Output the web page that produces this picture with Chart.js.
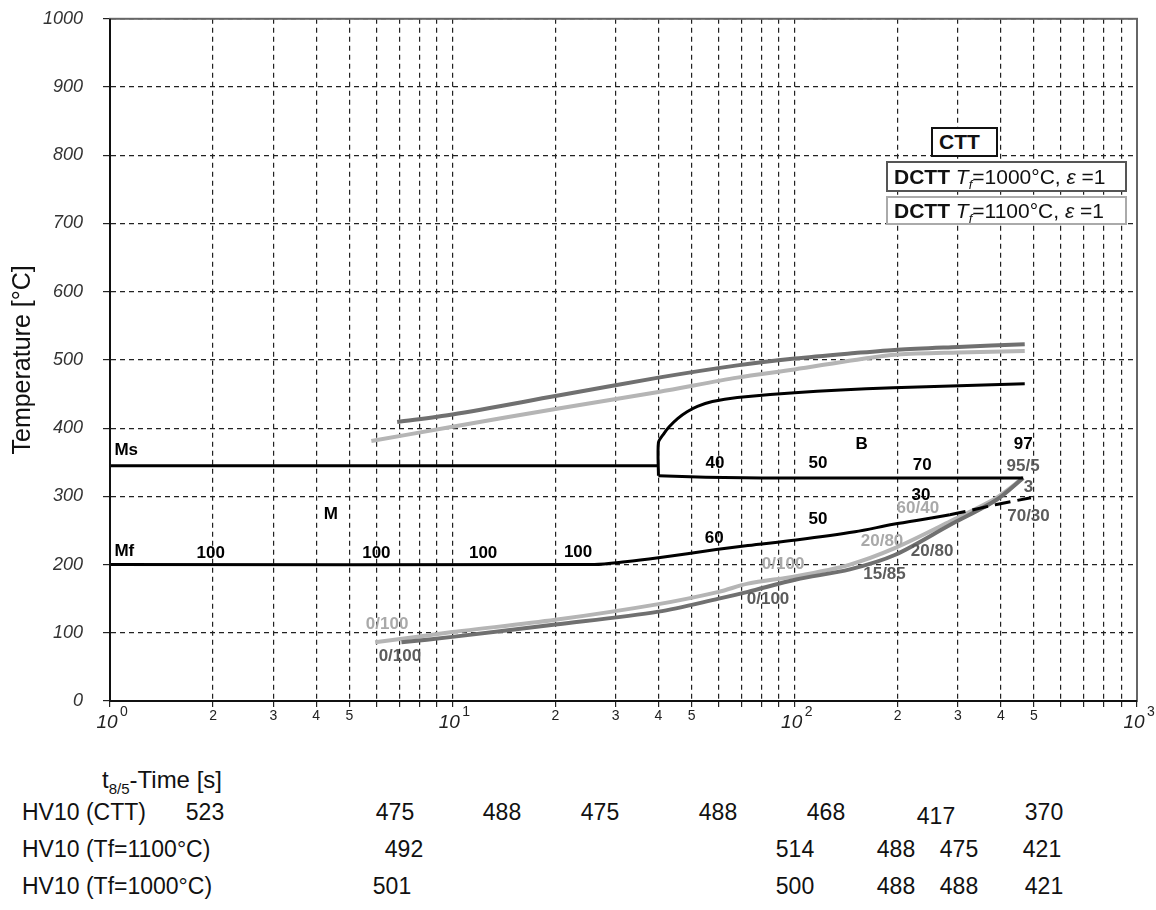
<!DOCTYPE html>
<html lang="en">
<head>
  <meta charset="UTF-8">
  <title>CTT / DCTT diagram</title>
  <script src="https://cdn.jsdelivr.net/npm/chart.js"></script>
  <style>
    body {
      margin: 0;
      background: #fff;
      font-family: "Liberation Sans", Arial, sans-serif;
      color: #111;
    }
    .page {
      position: relative;
      width: 1156px;
      height: 910px;
      overflow: hidden;
    }
    #cctChart {
      position: absolute;
      left: 0;
      top: -12px;
    }
    .key {
      position: absolute;
      box-sizing: border-box;
      background: #fff;
      font-size: 21px;
      white-space: nowrap;
      padding-left: 6px;
    }
    .key b { font-weight: bold; }
    .key i sub { font-size: 13px; }
    .xtitle {
      position: absolute;
      left: 102px;
      top: 765px;
      font-size: 24px;
      line-height: 30px;
      color: #111;
    }
    .xtitle sub { font-size: 15px; }
    .hv {
      position: absolute;
      font-size: 23px;
      line-height: 28px;
      white-space: nowrap;
      color: #111;
    }
  </style>
</head>
<body>
  <div class="page">
    <canvas id="cctChart" width="1156" height="752"></canvas>

    <div class="key" style="left:931px; top:127px; width:67px; height:30px; line-height:26px; border:2px solid #111;"><b>CTT</b></div>
    <div class="key" style="left:886px; top:161px; width:241px; height:31px; line-height:27px; border:2.5px solid #555;"><b>DCTT</b> <i>T<sub>f</sub></i>=1000°C, <i>ε</i> =1</div>
    <div class="key" style="left:886px; top:196px; width:241px; height:29px; line-height:25px; border:2px solid #aaa;"><b>DCTT</b> <i>T<sub>f</sub></i>=1100°C, <i>ε</i> =1</div>

    <div class="xtitle">t<sub>8/5</sub>-Time [s]</div>
    <div id="hvTable"></div>
  </div>

  <script>
    // CTT (black)
    const cttMsTime = [1, 40];
    const cttMsTemp = [345, 345];
    const cttBsTime = [40, 40, 41.5, 43, 45.5, 48.5, 52, 57.5, 68, 100, 194, 470];
    const cttBsTemp = [330, 379, 392, 402, 414, 424, 432, 439, 445, 452, 459, 465];
    const cttBfTime = [40, 55, 80, 465];
    const cttBfTemp = [330, 328, 327, 327];
    const cttMfTime = [1, 26, 32, 40, 59, 73, 101, 150, 194, 284, 389, 490];
    const cttMfTemp = [200, 200, 204, 210, 222, 228, 236, 248, 259, 273, 288, 298];

    // DCTT Tf=1000°C (dark grey)
    const d1000UpTime = [6.9, 10, 20, 40, 68, 100, 150, 200, 300, 470];
    const d1000UpTemp = [409, 420, 447, 474, 492, 502, 510, 515, 519, 523];
    const d1000LoTime = [7.1, 10, 20, 40, 60, 73, 101, 145, 196, 284, 389, 465];
    const d1000LoTemp = [86, 94, 112, 131, 150, 160, 178, 193, 214, 258, 295, 327];

    // DCTT Tf=1100°C (light grey)
    const d1100UpTime = [5.8, 10, 20, 40, 68, 100, 150, 200, 300, 470];
    const d1100UpTemp = [381, 402, 428, 453, 474, 486, 500, 508, 511, 513];
    const d1100LoTime = [5.95, 10, 20, 40, 60, 73, 101, 145, 196, 284, 389, 465];
    const d1100LoTemp = [86, 101, 119, 142, 160, 172, 183, 200, 224, 263, 298, 327];

    // hardness rows under the chart
    const hvLabels = ['HV10 (CTT)', 'HV10 (Tf=1100°C)', 'HV10 (Tf=1000°C)'];
    const hvCTT = [523, 475, 488, 475, 488, 468, 417, 370];
    const hvTf1100 = [492, 514, 488, 475, 421];
    const hvTf1000 = [501, 500, 488, 488, 421];

    const yTicks = [0, 100, 200, 300, 400, 500, 600, 700, 800, 900, 1000];

    // phase labels placed in (time, temperature)
    const curveLabels = [
      { t: 1.03, T: 367, text: 'Ms', tone: 'black', align: 'left' },
      { t: 1.03, T: 220, text: 'Mf', tone: 'black', align: 'left' },
      { t: 4.42, T: 274, text: 'M', tone: 'black' },
      { t: 1.97, T: 217, text: '100', tone: 'black' },
      { t: 6.0, T: 217, text: '100', tone: 'black' },
      { t: 12.3, T: 217, text: '100', tone: 'black' },
      { t: 23.3, T: 218, text: '100', tone: 'black' },
      { t: 58.2, T: 239, text: '60', tone: 'black' },
      { t: 117, T: 267, text: '50', tone: 'black' },
      { t: 234, T: 301, text: '30', tone: 'black' },
      { t: 58.5, T: 349, text: '40', tone: 'black' },
      { t: 117, T: 349, text: '50', tone: 'black' },
      { t: 157, T: 376, text: 'B', tone: 'black' },
      { t: 236, T: 346, text: '70', tone: 'black' },
      { t: 465, T: 376, text: '97', tone: 'black' },
      { t: 465, T: 344, text: '95/5', tone: 'dark' },
      { t: 482, T: 313, text: '3', tone: 'dark' },
      { t: 482, T: 270, text: '70/30', tone: 'dark' },
      { t: 229, T: 282, text: '60/40', tone: 'light' },
      { t: 180, T: 234, text: '20/80', tone: 'light' },
      { t: 252, T: 219, text: '20/80', tone: 'dark' },
      { t: 183, T: 185, text: '15/85', tone: 'dark' },
      { t: 92.5, T: 200, text: '0/100', tone: 'light' },
      { t: 83.6, T: 149, text: '0/100', tone: 'dark' },
      { t: 6.45, T: 112, text: '0/100', tone: 'light' },
      { t: 7.03, T: 65, text: '0/100', tone: 'dark' }
    ];

    const toneColor = { black: '#000', dark: '#5c5c5c', light: '#a9a9a9' };
    const DARK = '#707070';
    const LIGHT = '#b5b5b5';

    const pairs = (ts, Ts) => ts.map((t, i) => ({ x: t, y: Ts[i] }));

    const xTickValues = [];
    [1, 10, 100].forEach((d) => {
      for (let k = 1; k <= 9; k++) xTickValues.push(k * d);
    });
    xTickValues.push(1000);

    const diagramDecor = {
      id: 'diagramDecor',
      afterDraw(chart) {
        const { ctx, chartArea: a, scales: { x, y } } = chart;
        ctx.save();

        // frame
        ctx.strokeStyle = '#666';
        ctx.lineWidth = 2;
        ctx.strokeRect(a.left, a.top, a.right - a.left, a.bottom - a.top);
        ctx.strokeStyle = '#111';
        ctx.beginPath();
        ctx.moveTo(a.left, a.top);
        ctx.lineTo(a.left, a.bottom);
        ctx.lineTo(a.right, a.bottom);
        ctx.stroke();

        // x tick labels: 10^n and 2..5 in between
        ctx.fillStyle = '#222';
        ctx.textBaseline = 'middle';
        [1, 10, 100, 1000].forEach((v, n) => {
          const px = x.getPixelForValue(v);
          ctx.font = 'italic 19px "Liberation Sans", Arial, sans-serif';
          ctx.textAlign = 'center';
          ctx.fillText('10', px - 3, a.bottom + 22);
          ctx.font = '14px "Liberation Sans", Arial, sans-serif';
          ctx.textAlign = 'left';
          ctx.fillText(String(n), px + 10, a.bottom + 11);
        });
        ctx.font = '14px "Liberation Sans", Arial, sans-serif';
        ctx.textAlign = 'center';
        [1, 10, 100].forEach((d) => {
          [2, 3, 4, 5].forEach((k) => {
            ctx.fillText(String(k), x.getPixelForValue(k * d), a.bottom + 15);
          });
        });

        // phase / fraction labels
        ctx.textBaseline = 'middle';
        curveLabels.forEach((l) => {
          ctx.font = 'bold 17px "Liberation Sans", Arial, sans-serif';
          ctx.fillStyle = toneColor[l.tone];
          ctx.textAlign = l.align || 'center';
          ctx.fillText(l.text, x.getPixelForValue(l.t), y.getPixelForValue(l.T));
        });
        ctx.restore();
      }
    };

    new Chart(document.getElementById('cctChart'), {
      type: 'line',
      data: {
        datasets: [
          { label: 'CTT Ms', data: pairs(cttMsTime, cttMsTemp), borderColor: '#000', borderWidth: 3 },
          { label: 'CTT Bs', data: pairs(cttBsTime, cttBsTemp), borderColor: '#000', borderWidth: 3, tension: 0.25 },
          { label: 'CTT Bf', data: pairs(cttBfTime, cttBfTemp), borderColor: '#000', borderWidth: 3 },
          {
            label: 'CTT Mf', data: pairs(cttMfTime, cttMfTemp), borderColor: '#000', borderWidth: 3, tension: 0.3,
            segment: { borderDash: (c) => (c.p0.parsed.x >= 200 ? [16, 7] : undefined) }
          },
          { label: 'DCTT 1000 upper', data: pairs(d1000UpTime, d1000UpTemp), borderColor: DARK, borderWidth: 4, tension: 0.3 },
          { label: 'DCTT 1000 lower', data: pairs(d1000LoTime, d1000LoTemp), borderColor: DARK, borderWidth: 4, tension: 0.3 },
          { label: 'DCTT 1100 upper', data: pairs(d1100UpTime, d1100UpTemp), borderColor: LIGHT, borderWidth: 4, tension: 0.3 },
          { label: 'DCTT 1100 lower', data: pairs(d1100LoTime, d1100LoTemp), borderColor: LIGHT, borderWidth: 4, tension: 0.3 }
        ]
      },
      options: {
        responsive: false,
        animation: false,
        parsing: false,
        elements: { point: { radius: 0, hoverRadius: 0 } },
        layout: { padding: { top: 6, right: 19, left: 0, bottom: 0 } },
        plugins: {
          legend: { display: false },
          tooltip: { enabled: false }
        },
        scales: {
          x: {
            type: 'logarithmic',
            min: 1,
            max: 1000,
            afterBuildTicks: (scale) => {
              scale.ticks = xTickValues.map((v) => ({ value: v }));
            },
            afterFit: (scale) => { scale.height = 39; },
            ticks: { display: false },
            grid: { color: '#222', lineWidth: 1.2, drawTicks: true, tickLength: 6 },
            border: { display: true, color: '#111', width: 2, dash: [5, 4] }
          },
          y: {
            min: 0,
            max: 1000,
            afterBuildTicks: (scale) => {
              scale.ticks = yTicks.map((v) => ({ value: v }));
            },
            afterFit: (scale) => { scale.width = 110; },
            ticks: {
              padding: 20,
              color: '#333',
              font: { family: '"Liberation Sans", Arial, sans-serif', size: 18, style: 'italic' },
              callback: (v) => String(v)
            },
            grid: { color: '#222', lineWidth: 1.2, drawTicks: true, tickLength: 7 },
            border: { display: true, color: '#111', width: 2, dash: [5, 4] },
            title: {
              display: true,
              text: 'Temperature [°C]',
              color: '#111',
              font: { family: '"Liberation Sans", Arial, sans-serif', size: 25 },
              padding: { top: 8, bottom: 0 }
            }
          }
        }
      },
      plugins: [diagramDecor]
    });

    // hardness table
    const hvRowTops = [798, 835, 872];
    const hvColsCTT = [205, 395, 502, 600, 718, 826, 936, 1044];
    const hvCols1100 = [404, 795, 896, 959, 1042];
    const hvCols1000 = [392, 795, 896, 959, 1044];
    const table = document.getElementById('hvTable');
    const put = (text, left, top, center) => {
      const el = document.createElement('div');
      el.className = 'hv';
      el.textContent = text;
      el.style.left = left + 'px';
      el.style.top = top + 'px';
      if (center) el.style.transform = 'translateX(-50%)';
      table.appendChild(el);
    };
    hvLabels.forEach((lab, r) => put(lab, 22, hvRowTops[r], false));
    hvCTT.forEach((v, i) => put(String(v), hvColsCTT[i], hvRowTops[0] + (v === 417 ? 4 : 0), true));
    hvTf1100.forEach((v, i) => put(String(v), hvCols1100[i], hvRowTops[1], true));
    hvTf1000.forEach((v, i) => put(String(v), hvCols1000[i], hvRowTops[2], true));
  </script>
</body>
</html>
